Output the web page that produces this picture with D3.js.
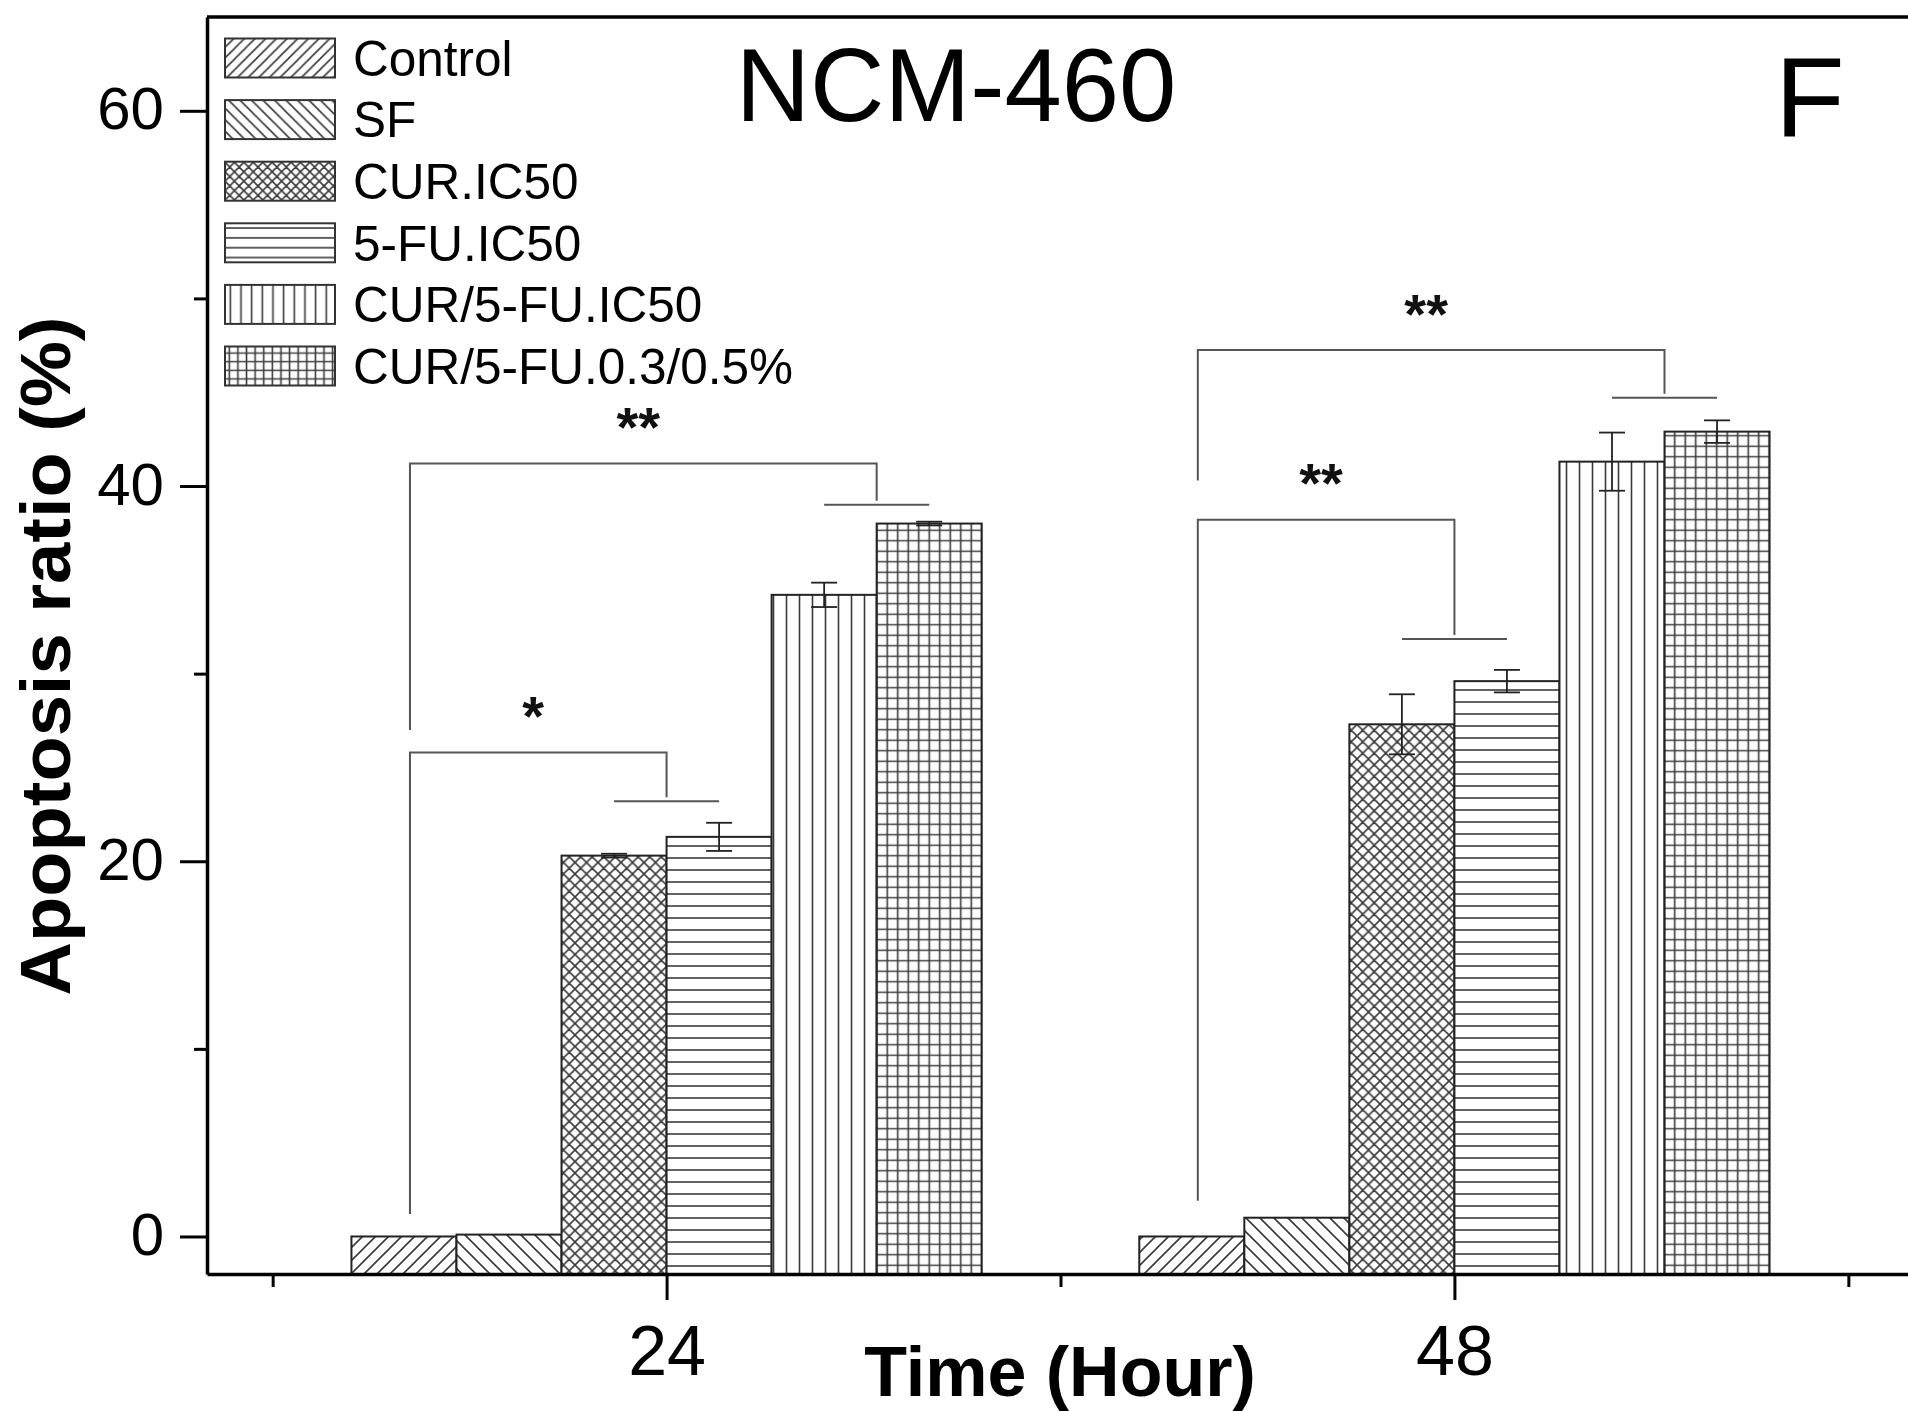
<!DOCTYPE html>
<html>
<head>
<meta charset="utf-8">
<script src="https://cdn.jsdelivr.net/npm/d3@7"></script>
<style>
  html, body { margin: 0; padding: 0; background: #fff; }
  svg { display: block; font-family: "Liberation Sans", Arial, sans-serif; }
</style>
</head>
<body>
<div id="chart"></div>
<script>
// time points (hours) and treatments
const groups = [24, 48];
const treatments = ["Control", "SF", "CUR.IC50", "5-FU.IC50", "CUR/5-FU.IC50", "CUR/5-FU.0.3/0.5%"];
const patternKinds = ["diagUp", "diagDown", "cross", "horiz", "vert", "grid"];

// apoptosis ratio (%)
const values24 = [0.0, 0.1, 20.3, 21.3, 34.2, 38.0];
const values48 = [0.0, 1.0, 27.3, 29.6, 41.3, 42.9];
const errors24 = [0, 0, 0.1, 0.75, 0.65, 0.1];
const errors48 = [0, 0, 1.6, 0.6, 1.55, 0.6];

// axis ticks
const yTicks = [0, 20, 40, 60];
const yMinorTicks = [10, 30, 50];
const xTicks = [24, 48];
const xMinorTicks = [12, 36, 60];

// significance brackets: control vs. a pair of bars in the same group
const sigGroups = [24, 24, 48, 48];
const sigPairs = [[2, 3], [4, 5], [2, 3], [4, 5]];
const sigLevels = [25.8, 41.2, 38.2, 47.25];
const sigLegEnds = [1.2, 27.0, 1.9, 40.3];
const sigCapLevels = [23.2, 39.0, 31.85, 44.7];
const sigLabels = ["*", "**", "**", "**"];

const width = 1908;
const height = 1411;
const margin = {top: 17, right: -6, bottom: 137, left: 207};
const barHours = 3.2;   // width of one bar in hour units

const svg = d3.select('#chart')
  .append('svg')
  .attr('width', width)
  .attr('height', height)
  .attr('viewBox', `0 0 ${width} ${height}`);

const x = d3.scaleLinear()
  .domain([10, 62])
  .range([margin.left, width - margin.right]);

const y = d3.scaleLinear()
  .domain([-2, 65])
  .range([height - margin.bottom, margin.top]);

/**
 * Builds the hatch patterns used by bars and legend swatches.
 */
function createPatterns(defs, prefix, scale) {
  const stroke = '#3a3a3a';
  const lw = 1.6;
  const spacing = {diagUp: 13, diagDown: 14, cross: 11.5, horiz: 12, vert: 13, grid: 10.5};

  patternKinds.forEach(kind => {
    const s = spacing[kind] * scale;
    const p = defs.append('pattern')
      .attr('id', prefix + kind)
      .attr('patternUnits', 'userSpaceOnUse')
      .attr('width', s)
      .attr('height', s);
    p.append('rect').attr('width', s).attr('height', s).attr('fill', '#fff');

    let d = '';
    if (kind === 'diagUp' || kind === 'cross') {
      d += `M0,${s} L${s},0 M${-s / 2},${s / 2} L${s / 2},${-s / 2} M${s / 2},${s * 1.5} L${s * 1.5},${s / 2}`;
    }
    if (kind === 'diagDown' || kind === 'cross') {
      d += ` M0,0 L${s},${s} M${-s / 2},${s / 2} L${s / 2},${s * 1.5} M${s / 2},${-s / 2} L${s * 1.5},${s / 2}`;
    }
    if (kind === 'horiz' || kind === 'grid') {
      d += ` M0,${s / 2} L${s},${s / 2}`;
    }
    if (kind === 'vert' || kind === 'grid') {
      d += ` M${s / 2},0 L${s / 2},${s}`;
    }
    p.append('path')
      .attr('d', d)
      .attr('stroke', stroke)
      .attr('stroke-width', lw)
      .attr('fill', 'none');
  });
}

const defs = svg.append('defs');
createPatterns(defs, 'bar-', 1);
createPatterns(defs, 'leg-', 0.82);

// bar center in hours
function barCenter(group, index) {
  return group + (index - (treatments.length - 1) / 2) * barHours;
}

const barData = [];
groups.forEach((g, gi) => {
  const vals = gi === 0 ? values24 : values48;
  const errs = gi === 0 ? errors24 : errors48;
  treatments.forEach((t, i) => {
    barData.push({group: g, index: i, label: t, value: vals[i], error: errs[i]});
  });
});

// bars
const bw = x(barHours) - x(0);
svg.append('g')
  .selectAll('rect')
  .data(barData)
  .enter()
  .append('rect')
  .attr('x', d => x(barCenter(d.group, d.index)) - bw / 2)
  .attr('y', d => y(d.value))
  .attr('width', bw)
  .attr('height', d => y(y.domain()[0]) - y(d.value))
  .attr('fill', d => `url(#bar-${patternKinds[d.index]})`)
  .attr('stroke', '#222')
  .attr('stroke-width', 2);

// error bars
const capW = 13;
const errG = svg.append('g')
  .attr('stroke', '#222')
  .attr('stroke-width', 1.8);
barData.filter(d => d.error > 0).forEach(d => {
  const cx = x(barCenter(d.group, d.index));
  const top = y(d.value + d.error);
  const bottom = y(d.value - d.error);
  errG.append('line').attr('x1', cx).attr('x2', cx).attr('y1', top).attr('y2', bottom);
  errG.append('line').attr('x1', cx - capW).attr('x2', cx + capW).attr('y1', top).attr('y2', top);
  errG.append('line').attr('x1', cx - capW).attr('x2', cx + capW).attr('y1', bottom).attr('y2', bottom);
});

// significance brackets
const sigG = svg.append('g');
sigLabels.forEach((label, i) => {
  const g = sigGroups[i];
  const pair = sigPairs[i];
  const left = x(barCenter(g, 0)) + 6;
  const right = (x(barCenter(g, pair[0])) + x(barCenter(g, pair[1]))) / 2;
  const top = y(sigLevels[i]);
  const capY = y(sigCapLevels[i]);

  sigG.append('path')
    .attr('d', `M${left},${y(sigLegEnds[i])} L${left},${top} L${right},${top} L${right},${capY - 4}`)
    .attr('fill', 'none')
    .attr('stroke', '#555')
    .attr('stroke-width', 2);

  sigG.append('line')
    .attr('x1', x(barCenter(g, pair[0])))
    .attr('x2', x(barCenter(g, pair[1])))
    .attr('y1', capY)
    .attr('y2', capY)
    .attr('stroke', '#555')
    .attr('stroke-width', 2);

  sigG.append('text')
    .attr('x', (left + right) / 2 - 5)
    .attr('y', y(sigLevels[i] + 2.1) + 22)
    .attr('text-anchor', 'middle')
    .attr('font-size', 56)
    .attr('font-weight', 'bold')
    .attr('fill', '#111')
    .text(label);
});

// axes
const axisWidth = 3.5;
function styleAxis(g) {
  g.select('.domain').attr('stroke', '#000').attr('stroke-width', axisWidth);
  g.selectAll('.tick line').attr('stroke', '#000').attr('stroke-width', 3);
  g.selectAll('.tick text').attr('fill', '#000').attr('font-family', '"Liberation Sans", Arial, sans-serif');
}

svg.append('g')
  .attr('transform', `translate(${margin.left},0)`)
  .call(d3.axisLeft(y).tickValues(yTicks).tickSize(27).tickSizeOuter(0).tickPadding(16))
  .call(styleAxis)
  .call(g => g.selectAll('.tick text').attr('font-size', 60).attr('dy', '0.30em'));

svg.append('g')
  .attr('transform', `translate(${margin.left},0)`)
  .call(d3.axisLeft(y).tickValues(yMinorTicks).tickSize(13).tickFormat(''))
  .call(styleAxis)
  .call(g => g.select('.domain').remove());

const xAxisY = y(y.domain()[0]);
svg.append('g')
  .attr('transform', `translate(0,${xAxisY})`)
  .call(d3.axisBottom(x).tickValues(xTicks).tickSize(26).tickSizeOuter(0).tickPadding(25))
  .call(styleAxis)
  .call(g => g.selectAll('.tick text').attr('font-size', 70));

svg.append('g')
  .attr('transform', `translate(0,${xAxisY})`)
  .call(d3.axisBottom(x).tickValues(xMinorTicks).tickSize(13).tickFormat(''))
  .call(styleAxis)
  .call(g => g.select('.domain').remove());

// top frame line
svg.append('line')
  .attr('x1', margin.left)
  .attr('x2', width)
  .attr('y1', y(y.domain()[1]))
  .attr('y2', y(y.domain()[1]))
  .attr('stroke', '#000')
  .attr('stroke-width', axisWidth);

// axis titles
svg.append('text')
  .attr('x', 1060)
  .attr('y', 1396)
  .attr('text-anchor', 'middle')
  .attr('font-size', 70)
  .attr('font-weight', 'bold')
  .text('Time (Hour)');

svg.append('text')
  .attr('transform', 'translate(70,656) rotate(-90)')
  .attr('text-anchor', 'middle')
  .attr('font-size', 71)
  .attr('font-weight', 'bold')
  .attr('textLength', 679)
  .attr('lengthAdjust', 'spacingAndGlyphs')
  .text('Apoptosis ratio (%)');

// panel title and letter
svg.append('text')
  .attr('x', 956)
  .attr('y', 121)
  .attr('text-anchor', 'middle')
  .attr('font-size', 103)
  .text('NCM-460');

svg.append('text')
  .attr('x', 1775)
  .attr('y', 137)
  .attr('font-size', 114)
  .text('F');

// legend
const legend = svg.append('g').attr('transform', 'translate(225,58)');
const rowH = 61.6;
treatments.forEach((t, i) => {
  const row = legend.append('g').attr('transform', `translate(0,${i * rowH})`);
  row.append('rect')
    .attr('x', 0)
    .attr('y', -19.5)
    .attr('width', 110)
    .attr('height', 39)
    .attr('fill', `url(#leg-${patternKinds[i]})`)
    .attr('stroke', '#333')
    .attr('stroke-width', 2);
  row.append('text')
    .attr('x', 128)
    .attr('y', 0)
    .attr('dy', '0.36em')
    .attr('font-size', 49.5)
    .text(t);
});
</script>
</body>
</html>
